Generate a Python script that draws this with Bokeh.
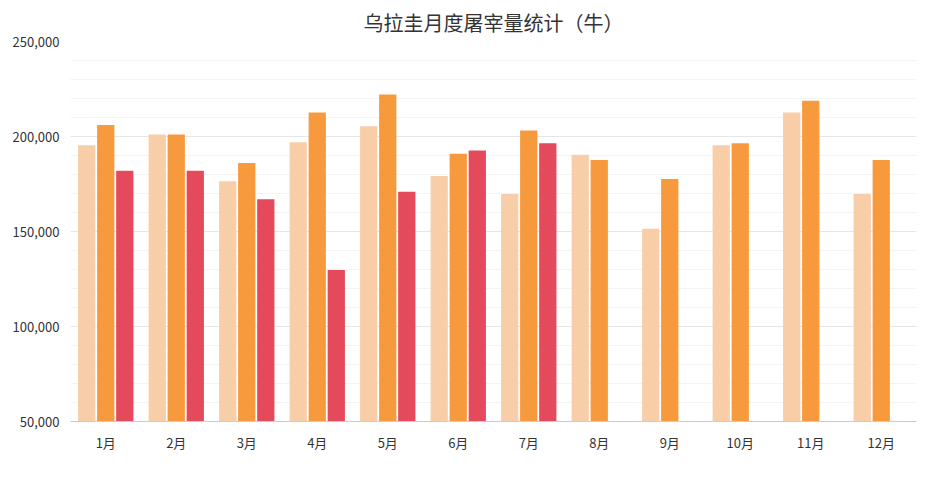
from bokeh.plotting import figure
from bokeh.models import Range1d, FixedTicker, NumeralTickFormatter, Legend, LegendItem, ColumnDataSource
from bokeh.embed import file_html
from bokeh.resources import INLINE

months = ["1月","2月","3月","4月","5月","6月","7月","8月","9月","10月","11月","12月"]
s2024 = [195400,201000,176400,197000,205400,179200,169800,190400,151400,195400,212600,169800]
s2025 = [206000,201000,186000,212600,222100,190900,203200,187600,177600,196500,218800,187600]
s2026 = [182000,182000,167000,129700,170900,192600,196500]
years = ["2024","2025","2026"]
colors = ["#F8CEA8","#F79A3E","#E5495C"]

FONT = "Noto Sans CJK SC"
p = figure(width=919, height=485, output_backend="svg", toolbar_location=None,
           x_range=Range1d(-0.5, 11.5), y_range=Range1d(50000, 250000),
           min_border_left=70, min_border_right=3, min_border_top=20, min_border_bottom=64)
p.title.text = "乌拉圭月度屠宰量统计（牛）"
p.title.align = "center"
p.title.text_font = FONT
p.title.text_font_size = "20px"
p.title.text_font_style = "normal"
p.title.text_color = "#333333"
p.outline_line_color = None

items = []
for k, (data, off) in enumerate(zip([s2024, s2025, s2026], [-0.27, 0, 0.27])):
    src = ColumnDataSource(dict(x=[i + off for i in range(len(data))], top=data))
    r = p.vbar(x="x", top="top", bottom=50000, width=0.245, source=src,
               fill_color=colors[k], line_color=None)
    items.append(LegendItem(label=years[k], renderers=[r]))

legend = Legend(items=items, orientation="horizontal", location=(304, -64),
                label_text_font=FONT, label_text_font_size="13px", label_text_color="#333333",
                glyph_width=11, glyph_height=11, spacing=8, label_standoff=4,
                border_line_color=None, background_fill_alpha=0, margin=0, padding=4)
p.add_layout(legend)

p.xaxis.ticker = FixedTicker(ticks=list(range(12)))
p.xaxis.major_label_overrides = {i: m for i, m in enumerate(months)}
p.xaxis.major_label_text_font = FONT
p.xaxis.major_label_text_font_size = "13px"
p.xaxis.major_label_text_color = "#333333"
p.xaxis.axis_line_color = "#cccccc"
p.xaxis.major_tick_line_color = None
p.xaxis.minor_tick_line_color = None
p.xgrid.grid_line_color = None

p.yaxis.ticker = FixedTicker(ticks=[50000,100000,150000,200000,250000],
                             minor_ticks=list(range(50000, 250001, 10000)))
p.yaxis.formatter = NumeralTickFormatter(format="0,0")
p.yaxis.major_label_text_font = FONT
p.yaxis.major_label_text_font_size = "13px"
p.yaxis.major_label_text_color = "#333333"
p.yaxis.axis_line_color = None
p.yaxis.major_tick_line_color = None
p.yaxis.minor_tick_line_color = None
p.ygrid.grid_line_color = "#e6e6e6"
p.ygrid.minor_grid_line_color = "#f3f3f3"

open("out.html", "w").write(file_html(p, INLINE))
